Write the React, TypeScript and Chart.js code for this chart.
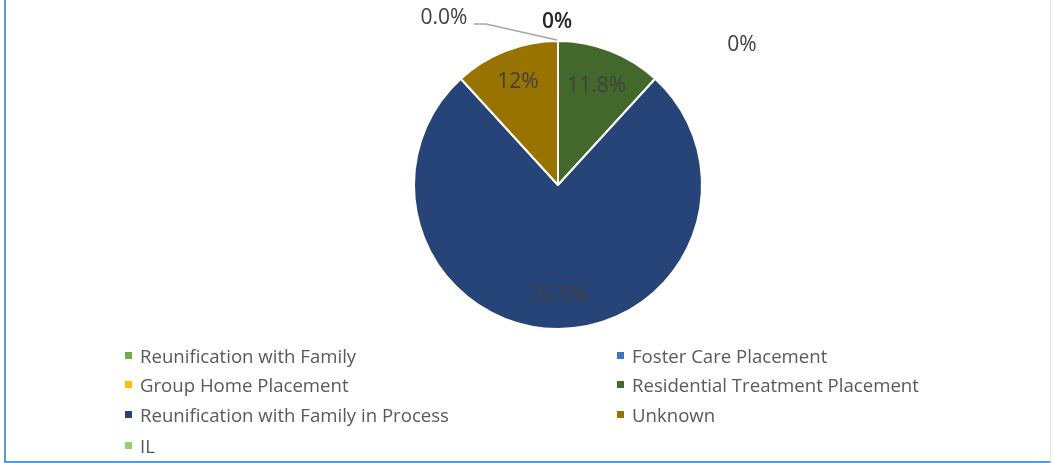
import React, { useEffect, useRef } from "react";
import { Chart, registerables } from "chart.js";

Chart.register(...registerables);

const categories = [
  "Reunification with Family",
  "Foster Care Placement",
  "Group Home Placement",
  "Residential Treatment Placement",
  "Reunification with Family in Process",
  "Unknown",
  "IL",
];
const values = [0, 0, 0, 11.8, 76.5, 11.8, 0];
const labelTexts = ["0%", "0%", "", "11.8%", "76.5%", "12%", "0.0%"];
const colors = ["#70ad47", "#4472c4", "#ffc000", "#43682b", "#264478", "#997300", "#99cc77"];

// label placement config (style, not data)
const labelPlacement: any[] = [
  { mode: "outside", dx: -1, dy: -19, weight: "600", color: "#262626" },
  { mode: "outside", dx: 184, dy: 4 },
  { mode: "none" },
  { mode: "inside", frac: 0.74 },
  { mode: "inside", frac: 0.77 },
  { mode: "inside", frac: 0.77 },
  { mode: "outside", dx: -114, dy: -23, leader: true },
];

const FONT = "'Open Sans', 'DejaVu Sans', sans-serif";

const labelPlugin = {
  id: "pieLabels",
  afterDatasetsDraw(chart: any) {
    const ctx = chart.ctx;
    const meta = chart.getDatasetMeta(0);
    ctx.save();
    ctx.textAlign = "center";
    ctx.textBaseline = "middle";
    meta.data.forEach((arc: any, i: number) => {
      const p = labelPlacement[i];
      const text = labelTexts[i];
      if (!p || p.mode === "none" || !text) return;
      const { x, y, startAngle, endAngle, outerRadius } = arc.getProps(
        ["x", "y", "startAngle", "endAngle", "outerRadius"],
        true
      );
      const mid = (startAngle + endAngle) / 2;
      let lx: number, ly: number;
      if (p.mode === "inside") {
        lx = x + Math.cos(mid) * outerRadius * p.frac;
        ly = y + Math.sin(mid) * outerRadius * p.frac;
      } else {
        const ax = x + Math.cos(mid) * outerRadius;
        const ay = y + Math.sin(mid) * outerRadius;
        lx = ax + p.dx;
        ly = ay + p.dy;
        if (p.leader) {
          ctx.beginPath();
          ctx.strokeStyle = "#a6a6a6";
          ctx.lineWidth = 1.5;
          ctx.moveTo(lx + 30, ly + 6);
          ctx.lineTo(lx + 42, ly + 6);
          ctx.lineTo(ax - 1, ay - 1);
          ctx.stroke();
        }
      }
      ctx.font = `${p.weight || "400"} 21px ${FONT}`;
      ctx.fillStyle = p.color || "#404040";
      ctx.fillText(text, lx, ly);
    });
    ctx.restore();
  },
};

export default function App() {
  const canvasRef = useRef<HTMLCanvasElement | null>(null);

  useEffect(() => {
    document.body.style.margin = "0";
    const canvas = canvasRef.current;
    if (!canvas) return;
    const chart = new Chart(canvas, {
      type: "pie",
      data: {
        labels: categories,
        datasets: [
          {
            data: values,
            backgroundColor: colors,
            borderColor: "#ffffff",
            borderWidth: values.map((v) => (v > 0 ? 2 : 0)),
          },
        ],
      },
      options: {
        responsive: false,
        animation: false,
        devicePixelRatio: 1,
        layout: { padding: { top: 40, bottom: 133, left: 258, right: 196 } },
        plugins: {
          legend: { display: false },
          tooltip: { enabled: false },
        },
      },
      plugins: [labelPlugin],
    });
    return () => chart.destroy();
  }, []);

  const leftItems = [0, 2, 4, 6];
  const rightItems = [1, 3, 5];
  const rowY = [355, 384, 414, 445];

  return (
    <div style={{ position: "relative", width: 1054, height: 463, background: "#fff", overflow: "hidden" }}>
      <div
        style={{
          position: "absolute",
          left: 4,
          top: -2,
          width: 1047,
          height: 465,
          borderLeft: "2px solid #5b9bd5",
          borderBottom: "2px solid #5b9bd5",
          borderRight: "1px solid #dde6f0",
          boxSizing: "border-box",
        }}
      />
      <canvas ref={canvasRef} width={1054} height={463} style={{ position: "absolute", left: 0, top: 0 }} />
      {[leftItems, rightItems].map((col, ci) =>
        col.map((idx, r) => (
          <div
            key={idx}
            style={{
              position: "absolute",
              left: ci === 0 ? 125 : 617,
              top: rowY[r] - 12,
              height: 24,
              display: "flex",
              alignItems: "center",
              fontFamily: FONT,
              fontSize: 18.6,
              color: "#595959",
              whiteSpace: "nowrap",
            }}
          >
            <span
              style={{
                display: "inline-block",
                width: 7,
                height: 7,
                background: colors[idx],
                marginRight: 8,
              }}
            />
            <span>{categories[idx]}</span>
          </div>
        ))
      )}
    </div>
  );
}
